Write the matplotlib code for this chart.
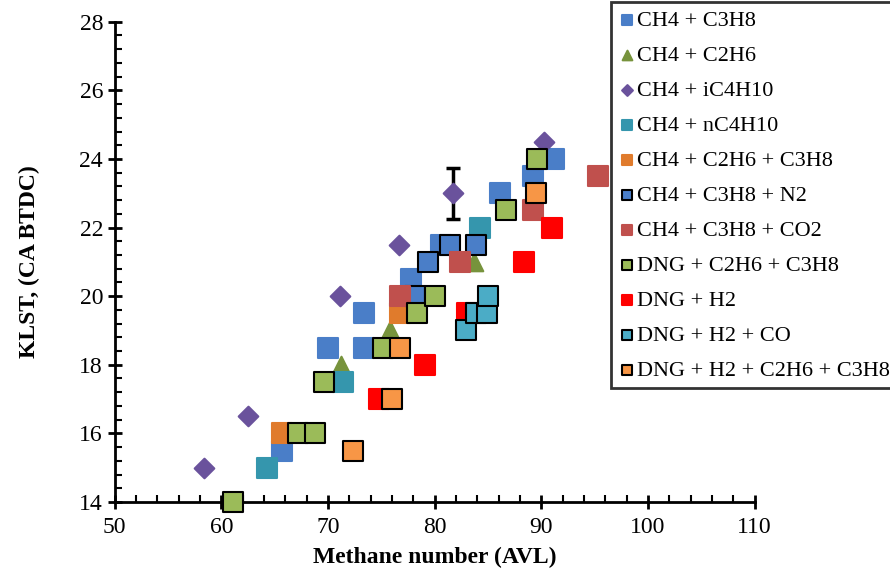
import numpy as np
import matplotlib.pyplot as plt
from matplotlib.ticker import MultipleLocator

plt.rcParams['font.family'] = ['Liberation Serif', 'DejaVu Serif']

# data: (methane number, KLST)
ch4_c3h8_x = [65.7, 70.0, 73.4, 73.4, 77.8, 80.6, 86.1, 89.2, 91.2]
ch4_c3h8_y = [15.5, 18.5, 18.5, 19.5, 20.5, 21.5, 23.0, 23.5, 24.0]
ch4_c2h6_x = [71.2, 75.8, 83.7]
ch4_c2h6_y = [18.0, 19.0, 21.0]
ch4_ic4_x = [58.4, 62.5, 71.1, 76.6, 81.7, 90.2]
ch4_ic4_y = [15.0, 16.5, 20.0, 21.5, 23.0, 24.5]
ch4_nc4_x = [64.3, 71.4, 84.2]
ch4_nc4_y = [15.0, 17.5, 22.0]
ch4_c2_c3_x = [65.7, 76.7]
ch4_c2_c3_y = [16.0, 19.5]
ch4_c3_n2_x = [78.1, 79.4, 81.4, 83.9]
ch4_c3_n2_y = [20.0, 21.0, 21.5, 21.5]
ch4_c3_co2_x = [76.7, 82.4, 89.2, 95.3]
ch4_c3_co2_y = [20.0, 21.0, 22.5, 23.5]
dng_c2_c3_x = [61.1, 67.2, 68.8, 69.6, 75.1, 78.3, 80.0, 86.7, 89.6]
dng_c2_c3_y = [14.0, 16.0, 16.0, 17.5, 18.5, 19.5, 20.0, 22.5, 24.0]
dng_h2_x = [74.8, 79.1, 83.0, 88.4, 91.0]
dng_h2_y = [17.0, 18.0, 19.5, 21.0, 22.0]
dng_h2_co_x = [82.9, 83.9, 84.9, 85.0]
dng_h2_co_y = [19.0, 19.5, 19.5, 20.0]
dng_h2_c2_c3_x = [72.3, 76.0, 76.7, 89.5]
dng_h2_c2_c3_y = [15.5, 17.0, 18.5, 23.0]

# error bar on one iC4H10 point
err_x = 81.7
err_y = 23.0
err_val = 0.75

fig = plt.figure(figsize=(8.9, 5.73), dpi=100)
ax = fig.add_axes([0.129, 0.124, 0.719, 0.838])

s = 200
series = [
    (ch4_c3h8_x, ch4_c3h8_y, 's', '#4a7ec8', '#4a7ec8', 'CH4 + C3H8', s),
    (ch4_c2h6_x, ch4_c2h6_y, '^', '#77933c', '#77933c', 'CH4 + C2H6', 160),
    (ch4_ic4_x, ch4_ic4_y, 'D', '#6a529c', '#6a529c', 'CH4 + iC4H10', 100),
    (ch4_nc4_x, ch4_nc4_y, 's', '#3596ad', '#3596ad', 'CH4 + nC4H10', s),
    (ch4_c2_c3_x, ch4_c2_c3_y, 's', '#e07b2c', '#e07b2c', 'CH4 + C2H6 + C3H8', s),
    (ch4_c3_n2_x, ch4_c3_n2_y, 's', '#4a7ec8', 'black', 'CH4 + C3H8 + N2', s),
    (ch4_c3_co2_x, ch4_c3_co2_y, 's', '#c0504d', '#c0504d', 'CH4 + C3H8 + CO2', s),
    (dng_c2_c3_x, dng_c2_c3_y, 's', '#9bbb59', 'black', 'DNG + C2H6 + C3H8', s),
    (dng_h2_x, dng_h2_y, 's', '#ff0000', '#ff0000', 'DNG + H2', s),
    (dng_h2_co_x, dng_h2_co_y, 's', '#4bacc6', 'black', 'DNG + H2 + CO', s),
    (dng_h2_c2_c3_x, dng_h2_c2_c3_y, 's', '#f79646', 'black', 'DNG + H2 + C2H6 + C3H8', s),
]

for xs, ys, m, fc, ec, lab, sz in series:
    ax.scatter(xs, ys, marker=m, s=sz, facecolor=fc, edgecolor=ec,
               linewidths=1.5, label=lab, clip_on=False, zorder=3)

ax.errorbar([err_x], [err_y], yerr=[err_val], fmt='none', ecolor='black',
            elinewidth=2.5, capsize=5, capthick=2.5, zorder=2)

ax.set_xlim(50, 110)
ax.set_ylim(14, 28)
ax.xaxis.set_major_locator(MultipleLocator(10))
ax.xaxis.set_minor_locator(MultipleLocator(2))
ax.yaxis.set_major_locator(MultipleLocator(2))
ax.yaxis.set_minor_locator(MultipleLocator(0.4))
ax.tick_params(which='major', direction='inout', length=10, width=2, labelsize=17)
ax.tick_params(which='minor', direction='in', length=5, width=1.5)
ax.tick_params(axis='x', pad=6)

for side in ['top', 'right']:
    ax.spines[side].set_visible(False)
for side in ['left', 'bottom']:
    ax.spines[side].set_linewidth(2)

ax.set_xlabel('Methane number (AVL)', fontsize=17, fontweight='bold', labelpad=6)
ax.set_ylabel('KLST, (CA BTDC)', fontsize=17, fontweight='bold', labelpad=28)

leg = fig.legend(loc='upper left', bbox_to_anchor=(0.687, 0.996),
                 fontsize=16, frameon=True, fancybox=False,
                 markerscale=0.55, handletextpad=0.1, handlelength=0.7,
                 labelspacing=0.65, borderpad=0.35, borderaxespad=0.0)
leg.get_frame().set_edgecolor('black')
leg.get_frame().set_linewidth(2)

plt.savefig('out.png', dpi=100)
plt.close()
